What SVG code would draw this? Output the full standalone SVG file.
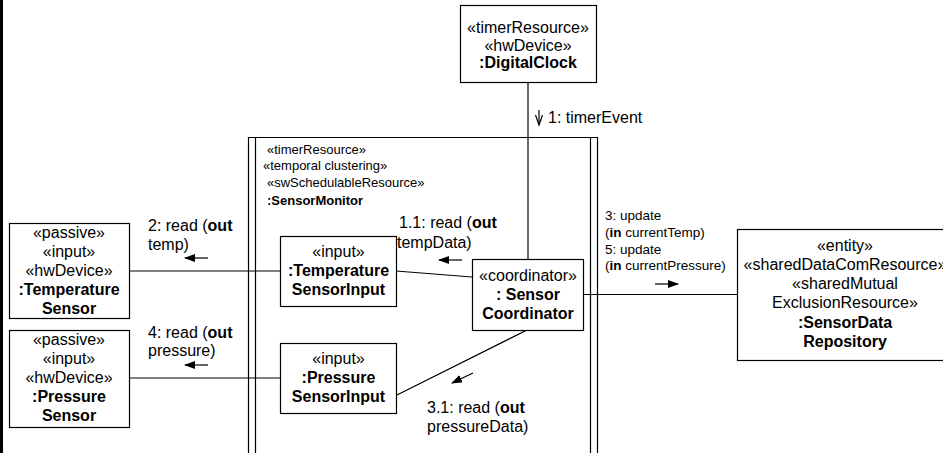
<svg xmlns="http://www.w3.org/2000/svg" width="943" height="453" viewBox="0 0 943 453">
<style>
  text { font-family: "Liberation Sans", Arial, sans-serif; fill: #000; }
  .n { font-size: 16px; text-anchor: middle; }
  .b { font-weight: bold; }
  .m { font-size: 16px; }
  .s { font-size: 13px; }
  .u { font-size: 13.5px; }
  .box { fill: #fff; stroke: #000; stroke-width: 1.2; }
  .ln { fill: none; stroke: #000; stroke-width: 1.2; }
  .ar { fill: none; stroke: #000; stroke-width: 1.2; marker-end: url(#fa); }
</style>
<defs>
  <marker id="fa" markerUnits="userSpaceOnUse" markerWidth="11" markerHeight="8" refX="10" refY="4" orient="auto">
    <path d="M0,0 L11,4 L0,8 z" fill="#000"/>
  </marker>
</defs>
<rect x="0" y="0" width="943" height="453" fill="#fff"/>
<rect x="0" y="0" width="3" height="453" fill="#000"/>

<g id="SensorMonitor">
  <path class="ln" d="M248.5,460 V137.5 H597.5 V460"/>
  <path class="ln" d="M255.5,137.5 V460 M590.5,137.5 V460"/>
  <text class="s" x="267" y="154">«timerResource»</text>
  <text class="s" x="263" y="170">«temporal clustering»</text>
  <text class="s" x="267" y="187">«swSchedulableResource»</text>
  <text class="s b" x="267" y="205">:SensorMonitor</text>
</g>

<g id="connectors">
  <line class="ln" x1="528" y1="83" x2="528" y2="259"/>
  <line class="ln" x1="129" y1="271" x2="280" y2="271"/>
  <line class="ln" x1="129" y1="378" x2="280" y2="378"/>
  <line class="ln" x1="396" y1="271" x2="472" y2="277"/>
  <line class="ln" x1="527" y1="330" x2="397" y2="395"/>
  <line class="ln" x1="583" y1="294.5" x2="737" y2="294.5"/>
</g>

<g id="DigitalClock">
  <rect class="box" x="460.5" y="5.5" width="136" height="77"/>
  <text class="n" x="528" y="33">«timerResource»</text>
  <text class="n" x="528" y="50.5">«hwDevice»</text>
  <text class="n b" x="528" y="68">:DigitalClock</text>
</g>

<g id="TemperatureSensor">
  <rect class="box" x="9.5" y="223.5" width="120" height="95"/>
  <text class="n" x="69" y="238">«passive»</text>
  <text class="n" x="69" y="257">«input»</text>
  <text class="n" x="69" y="276">«hwDevice»</text>
  <text class="n b" x="69" y="295">:Temperature</text>
  <text class="n b" x="69" y="314">Sensor</text>
</g>

<g id="PressureSensor">
  <rect class="box" x="9.5" y="330.5" width="120" height="97"/>
  <text class="n" x="69" y="345">«passive»</text>
  <text class="n" x="69" y="364">«input»</text>
  <text class="n" x="69" y="383">«hwDevice»</text>
  <text class="n b" x="69" y="402">:Pressure</text>
  <text class="n b" x="69" y="421">Sensor</text>
</g>

<g id="TemperatureSensorInput">
  <rect class="box" x="280.5" y="236.5" width="116" height="70"/>
  <text class="n" x="338.5" y="256.5">«input»</text>
  <text class="n b" x="338.5" y="275.5">:Temperature</text>
  <text class="n b" x="338.5" y="294.5">SensorInput</text>
</g>

<g id="PressureSensorInput">
  <rect class="box" x="280.5" y="343.5" width="116" height="70"/>
  <text class="n" x="338.5" y="364">«input»</text>
  <text class="n b" x="338.5" y="383">:Pressure</text>
  <text class="n b" x="338.5" y="402">SensorInput</text>
</g>

<g id="SensorCoordinator">
  <rect class="box" x="472.5" y="259.5" width="111" height="71"/>
  <text class="n" x="528" y="281">«coordinator»</text>
  <text class="n b" x="528" y="300">: Sensor</text>
  <text class="n b" x="528" y="319">Coordinator</text>
</g>

<g id="SensorDataRepository">
  <rect class="box" x="737.5" y="229.5" width="220" height="131"/>
  <text class="n" x="845" y="251">«entity»</text>
  <text class="n" x="845" y="270">«sharedDataComResource»</text>
  <text class="n" x="845" y="289">«sharedMutual</text>
  <text class="n" x="845" y="308">ExclusionResource»</text>
  <text class="n b" x="845" y="328">:SensorData</text>
  <text class="n b" x="845" y="347">Repository</text>
</g>

<g id="messages">
  <line class="ln" x1="539" y1="110" x2="539" y2="125"/>
  <polyline class="ln" points="535.5,115 539,125 542.5,115"/>
  <text class="m" x="548" y="123">1: timerEvent</text>

  <text class="m" x="148" y="231">2: read (<tspan class="b">out</tspan></text>
  <text class="m" x="148" y="250">temp)</text>
  <line class="ar" x1="208" y1="258" x2="185" y2="258"/>

  <text class="m" x="148" y="338">4: read (<tspan class="b">out</tspan></text>
  <text class="m" x="148" y="356">pressure)</text>
  <line class="ar" x1="208" y1="365" x2="185" y2="365"/>

  <text class="m" x="399" y="228">1.1: read (<tspan class="b">out</tspan></text>
  <text class="m" x="397" y="248">tempData)</text>
  <line class="ar" x1="462" y1="260" x2="439" y2="260"/>

  <text class="m" x="427" y="413">3.1: read (<tspan class="b">out</tspan></text>
  <text class="m" x="427" y="432">pressureData)</text>
  <line class="ar" x1="473" y1="373" x2="452" y2="383"/>

  <text class="u" x="605" y="220">3: update</text>
  <text class="u" x="605" y="237">(<tspan class="b">in</tspan> currentTemp)</text>
  <text class="u" x="605" y="254">5: update</text>
  <text class="u" x="605" y="270">(<tspan class="b">in</tspan> currentPressure)</text>
  <line class="ar" x1="655" y1="284" x2="678" y2="284"/>
</g>
</svg>
